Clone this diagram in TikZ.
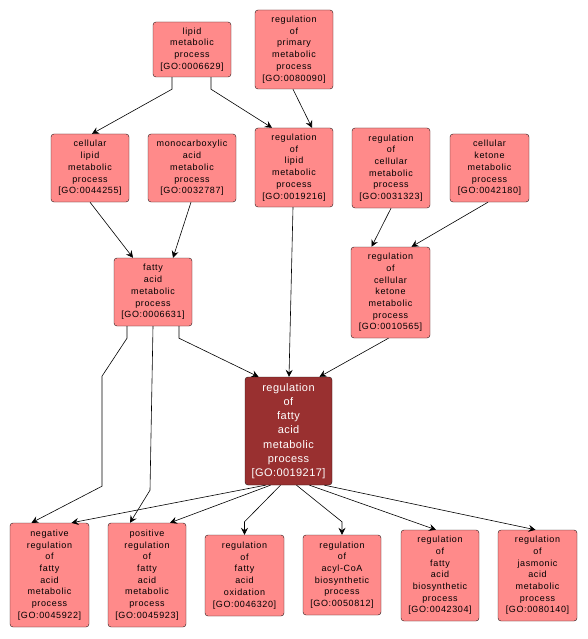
\documentclass[tikz,border=0pt]{standalone}
\usepackage{fontspec}
\setmainfont{Liberation Sans}[LetterSpace=7]
\newfontfamily\mainfam{Liberation Sans}[LetterSpace=4]
\usetikzlibrary{arrows.meta,calc}
\definecolor{gopink}{RGB}{255,138,138}
\definecolor{godark}{RGB}{153,48,48}
\definecolor{goline}{RGB}{40,24,24}
\tikzset{
% Two node styles for GO terms: plain and highlighted
go node/.style={rectangle,rounded corners=3pt,draw=goline,fill=gopink,
  align=center,inner sep=0pt,text width=#1,minimum width=#1,
  font=\fontsize{9}{11.7}\selectfont},
go node/.default=78pt,
main node/.style={go node=87pt,fill=godark,text=white,
  font=\mainfam\fontsize{11}{14.2}\selectfont},
go edge/.style={draw=black,line width=0.6pt,-{Stealth[length=7pt,width=7pt,inset=2.5pt]}}
}
\begin{document}
\begin{tikzpicture}[x=1pt,y=-1pt]
\useasboundingbox (0,0) rectangle (587,639);
% top rows
\node[go node, minimum height=55pt] (lmp) at (192,49.5) {lipid\\metabolic\\process\\{[GO:0006629]}};
\node[go node, minimum height=79pt] (rpmp) at (294,49.5) {regulation\\of\\primary\\metabolic\\process\\{[GO:0080090]}};
\node[go node, minimum height=68pt] (clmp) at (90,168) {cellular\\lipid\\metabolic\\process\\{[GO:0044255]}};
\node[go node=88pt, minimum height=68pt] (mamp) at (192,168) {monocarboxylic\\acid\\metabolic\\process\\{[GO:0032787]}};
\node[go node, minimum height=79pt] (rlmp) at (294,167.5) {regulation\\of\\lipid\\metabolic\\process\\{[GO:0019216]}};
\node[go node, minimum height=80pt] (rcmp) at (391,168) {regulation\\of\\cellular\\metabolic\\process\\{[GO:0031323]}};
\node[go node=79pt, minimum height=68pt] (ckmp) at (489.5,168) {cellular\\ketone\\metabolic\\process\\{[GO:0042180]}};
\node[go node=79pt, minimum height=91pt] (rckmp) at (390.5,292.5) {regulation\\of\\cellular\\ketone\\metabolic\\process\\{[GO:0010565]}};
\node[go node, minimum height=68pt] (famp) at (153,292) {fatty\\acid\\metabolic\\process\\{[GO:0006631]}};
% the term itself
\node[main node, minimum height=108pt] (rfamp) at (288.5,431) {regulation\\of\\fatty\\acid\\metabolic\\process\\{[GO:0019217]}};
% children
\node[go node=79pt, minimum height=104pt] (nrfamp) at (49.5,575) {negative\\regulation\\of\\fatty\\acid\\metabolic\\process\\{[GO:0045922]}};
\node[go node, minimum height=104pt] (prfamp) at (147,575) {positive\\regulation\\of\\fatty\\acid\\metabolic\\process\\{[GO:0045923]}};
\node[go node=79pt, minimum height=81pt] (rfao) at (244.5,575.5) {regulation\\of\\fatty\\acid\\oxidation\\{[GO:0046320]}};
\node[go node, minimum height=80pt] (racb) at (342,575) {regulation\\of\\acyl-CoA\\biosynthetic\\process\\{[GO:0050812]}};
\node[go node, minimum height=91pt] (rfabp) at (440,575.5) {regulation\\of\\fatty\\acid\\biosynthetic\\process\\{[GO:0042304]}};
\node[go node=79pt, minimum height=91pt] (rjamp) at (537.5,575.5) {regulation\\of\\jasmonic\\acid\\metabolic\\process\\{[GO:0080140]}};
% edges
\draw[go edge] ([xshift=-20pt]lmp.south) -- ++(0,12) -- ([xshift=2pt]clmp.north);
\draw[go edge] ([xshift=19pt]lmp.south) -- ++(0,12) -- ([xshift=-22pt]rlmp.north);
\draw[go edge] ([xshift=-1pt]rpmp.south) -- ([xshift=18pt]rlmp.north);
\draw[go edge] (clmp.south) -- ([xshift=-20pt]famp.north);
\draw[go edge] ([xshift=-1pt]mamp.south) -- ([xshift=20pt]famp.north);
\draw[go edge] ([xshift=-1pt]rlmp.south) -- ([xshift=0.5pt]rfamp.north);
\draw[go edge] (rcmp.south) -- ([xshift=-19pt]rckmp.north);
\draw[go edge] ([xshift=-1.5pt]ckmp.south) -- ([xshift=21pt]rckmp.north);
\draw[go edge] ([xshift=26pt]famp.south) -- ++(0,12) -- ([xshift=-30pt]rfamp.north);
\draw[go edge] ([xshift=-2pt]rckmp.south) -- ([xshift=31pt]rfamp.north);
\draw[go edge] ([xshift=-26pt]famp.south) -- ++(0,12) -- ++(-25,38) -- ++(0,110) -- ([xshift=-18pt]nrfamp.north);
\draw[go edge] (famp.south) -- ++(-3,164) -- ([xshift=-17pt]prfamp.north);
\draw[go edge] ([xshift=-23pt]rfamp.south) -- ([xshift=22pt]nrfamp.north);
\draw[go edge] ([xshift=-18pt]rfamp.south) -- ([xshift=23pt]prfamp.north);
\draw[go edge] ([xshift=-8pt]rfamp.south) -- ([yshift=13pt]rfao.north) -- (rfao.north);
\draw[go edge] ([xshift=8pt]rfamp.south) -- ([yshift=13pt]racb.north) -- (racb.north);
\draw[go edge] ([xshift=21pt]rfamp.south) -- ([xshift=-4pt]rfabp.north);
\draw[go edge] ([xshift=36pt]rfamp.south) -- ([xshift=-2pt]rjamp.north);
\end{tikzpicture}
\end{document}
